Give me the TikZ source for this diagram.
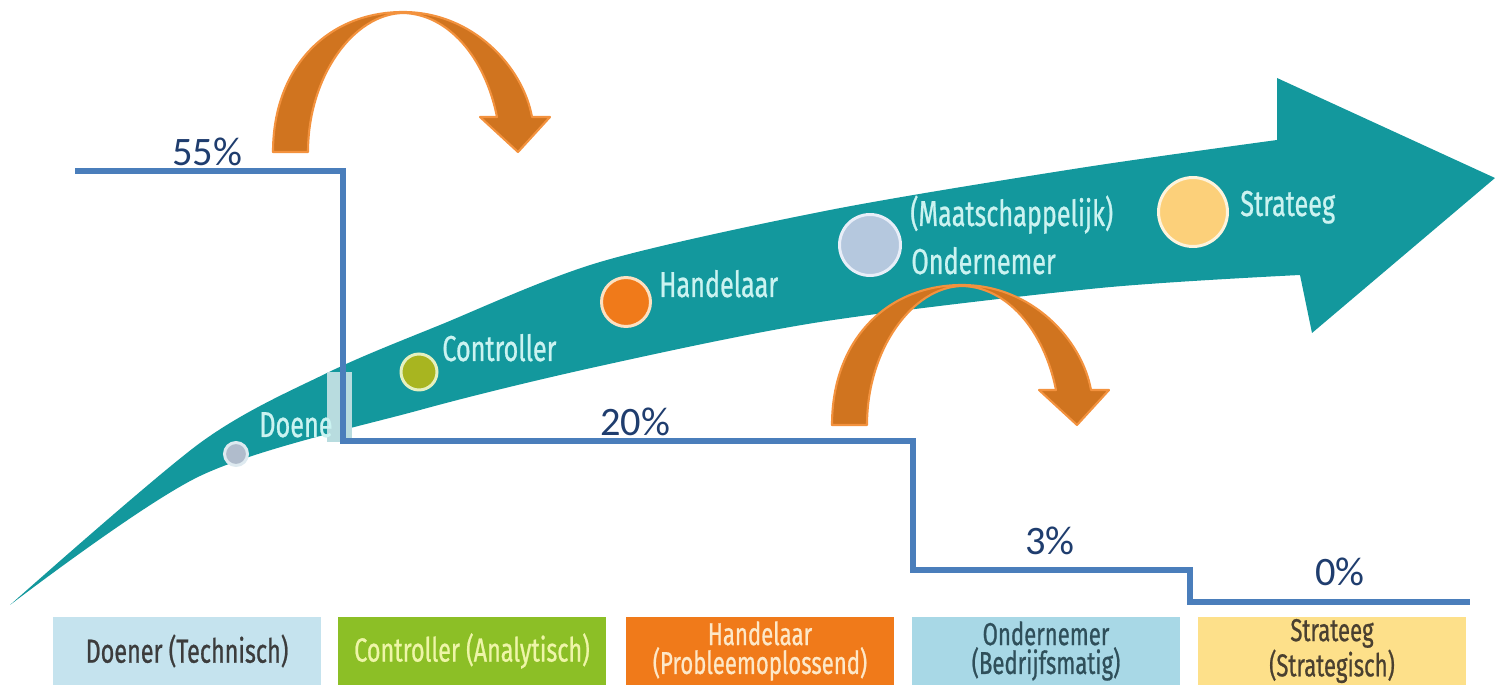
\documentclass[tikz,border=0pt]{standalone}
\usepackage{fontspec}
\usepackage{tikz}
\usetikzlibrary{positioning}
\newfontfamily\condfont[FakeStretch=0.7, FakeBold=0.7]{Fira Sans}
\newfontfamily\calib{Carlito}
\definecolor{bandteal}{HTML}{13989D}
\definecolor{bandcut}{HTML}{B8DCDF}
\definecolor{stagetxt}{HTML}{CBF3F1}
\definecolor{stepblue}{HTML}{4A7EBB}
\definecolor{pctblue}{HTML}{1F3D6E}
\definecolor{hopdark}{HTML}{D0741F}
\definecolor{hoplight}{HTML}{E67F29}
\definecolor{hopedge}{HTML}{F3923E}

\tikzset{
  dot/.style={circle, draw, line width=1.7pt, inner sep=0pt},
  pct/.style={font=\calib\fontsize{23}{23}\selectfont, text=pctblue, anchor=base, inner sep=0pt},
  stage/.style={font=\condfont\fontsize{20.5}{20.5}\selectfont, text=stagetxt, anchor=base west, inner sep=0pt},
  lvlbox/.style={minimum width=5.36cm, minimum height=1.38cm, align=center, inner sep=0pt,
    font=\condfont\fontsize{19}{19}\selectfont},
  lvltwo/.style={lvlbox, font=\condfont\fontsize{18}{14.5}\selectfont},
  hoparrow/.pic={
    \path[left color=hopdark, middle color=hoplight, right color=hopdark, draw=hopedge,
          line width=1.2pt, line join=round]
      (0,0) .. controls (0,-85) and (55,-140) .. (130,-140)
      .. controls (200,-140) and (250,-85) .. (259,-35)
      -- (277,-35) -- (245,0) -- (207,-35) -- (224,-35)
      .. controls (212,-95) and (175,-138) .. (130,-139)
      .. controls (80,-138) and (35,-75) .. (35,0) -- cycle;
  }
}

\begin{document}
\begin{tikzpicture}[x=0.02cm, y=-0.02cm]
  \useasboundingbox (0,0) rectangle (1495,685);

  % the big curved arrow
  \fill[bandteal]
    plot[smooth] coordinates {(10,605) (200,476) (420,410) (600,366) (820,322) (1100,288) (1300,275)}
    -- (1312,333) -- (1495,178) -- (1277,78) -- (1277,140)
    -- plot[smooth] coordinates {(1277,140) (1080,168) (830,210) (600,262) (440,325) (327,373) (200,443) (10,605)}
    -- cycle;
  \fill[bandcut] (327,372) rectangle (352,442);

  % stages on the arrow
  \node[dot, fill={rgb,255:red,176;green,188;blue,204}, draw={rgb,255:red,222;green,234;blue,240}, minimum size=0.46cm] (dDoener) at (236,454) {};
  \node[dot, fill={rgb,255:red,168;green,181;blue,32}, draw={rgb,255:red,229;green,240;blue,192}, minimum size=0.72cm] (dController) at (419,372) {};
  \node[dot, fill={rgb,255:red,240;green,122;blue,26}, draw={rgb,255:red,253;green,224;blue,192}, minimum size=0.98cm] (dHandelaar) at (626,302) {};
  \node[dot, fill={rgb,255:red,181;green,200;blue,222}, draw={rgb,255:red,232;green,238;blue,248}, minimum size=1.22cm] (dOndernemer) at (870,245) {};
  \node[dot, fill={rgb,255:red,252;green,208;blue,122}, draw={rgb,255:red,253;green,243;blue,220}, minimum size=1.38cm] (dStrateeg) at (1193,212) {};

  \node[stage] (lDoener) at (259,437) {Doene};
  \node[stage] (lController) at (442,361) {Controller};
  \node[stage] (lHandelaar) at (659,297) {Handelaar};
  \node[stage] (lMaatsch) at (910,226) {(Maatschappelijk)};
  \node[stage] (lOndernemer) at (911,274) {Ondernemer};
  \node[stage] (lStrateeg) at (1240,216) {Strateeg};

  % jumps
  \pic at (273,152) {hoparrow};
  \pic at (832,425) {hoparrow};

  % share per level
  \coordinate (s0) at (75,171);
  \coordinate (s1) at (343,171);
  \coordinate (s2) at (343,441);
  \coordinate (s3) at (913,441);
  \coordinate (s4) at (913,570);
  \coordinate (s5) at (1190,570);
  \coordinate (s6) at (1190,602);
  \coordinate (s7) at (1470,602);
  \draw[stepblue, line width=3.2pt] (s0) -- (s1) -- (s2) -- (s3) -- (s4) -- (s5) -- (s6) -- (s7);

  \node[pct] (p55) at (207,166) {55\%};
  \node[pct] (p20) at (635,436) {20\%};
  \node[pct] (p3) at (1050,555) {3\%};
  \node[pct] (p0) at (1340,586) {0\%};

  % levels
  \node[lvlbox, fill={rgb,255:red,197;green,227;blue,238}, text={rgb,255:red,60;green,60;blue,60}] (bDoener) at (187,651) {Doener (Technisch)};
  \node[lvlbox, fill={rgb,255:red,140;green,191;blue,38}, text={rgb,255:red,238;green,245;blue,168}] (bController) at (472,651) {Controller (Analytisch)};
  \node[lvltwo, fill={rgb,255:red,240;green,122;blue,26}, text={rgb,255:red,253;green,232;blue,200}] (bHandelaar) at (760,651) {Handelaar\\(Probleemoplossend)};
  \node[lvltwo, fill={rgb,255:red,168;green,216;blue,230}, text={rgb,255:red,47;green,79;blue,90}] (bOndernemer) at (1046,651) {Ondernemer\\(Bedrijfsmatig)};
  \node[lvltwo, fill={rgb,255:red,253;green,224;blue,138}, text={rgb,255:red,74;green,64;blue,48}] (bStrateeg) at (1332,651) {Strateeg\\(Strategisch)};
\end{tikzpicture}
\end{document}
